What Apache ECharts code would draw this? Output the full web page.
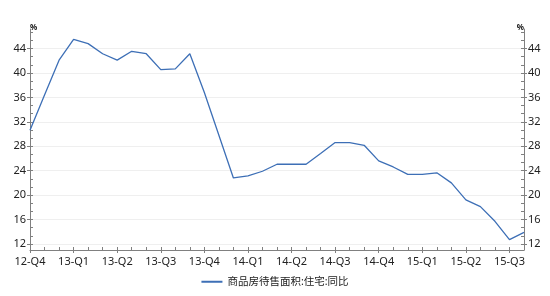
<!DOCTYPE html>
<html>
<head>
<meta charset="utf-8">
<script src="https://cdn.jsdelivr.net/npm/echarts@6/dist/echarts.min.js"></script>
<style>html,body{margin:0;padding:0;background:#fff}#c{width:550px;height:296px}</style>
</head>
<body>
<div id="c"></div>
<script>
// Months 2012-12 .. 2015-10
var months = ['2012-12','2013-01','2013-02','2013-03','2013-04','2013-05','2013-06','2013-07','2013-08','2013-09','2013-10','2013-11','2013-12',
  '2014-01','2014-02','2014-03','2014-04','2014-05','2014-06','2014-07','2014-08','2014-09','2014-10','2014-11','2014-12',
  '2015-01','2015-02','2015-03','2015-04','2015-05','2015-06','2015-07','2015-08','2015-09','2015-10'];
var values = [30.6, 36.4, 42.1, 45.5, 44.8, 43.15, 42.1, 43.55, 43.15, 40.55, 40.67, 43.15, 36.8,
  29.8, 22.8, 23.15, 23.9, 25.05, 25.05, 25.05, 26.8, 28.6, 28.6, 28.15, 25.6,
  24.6, 23.4, 23.4, 23.65, 22.0, 19.2, 18.1, 15.7, 12.7, 13.9];
var majorTicks = [12, 16, 20, 24, 28, 32, 36, 40, 44];
var minorTicks = [12, 13.333, 14.667, 16, 17.333, 18.667, 20, 21.333, 22.667, 24, 25.333, 26.667, 28,
  29.333, 30.667, 32, 33.333, 34.667, 36, 37.333, 38.667, 40, 41.333, 42.667, 44, 45.333, 46.667];
var seriesName = '商品房待售面积:住宅:同比';

var FONT = "'Noto Sans', 'Noto Sans CJK SC', sans-serif";
var AX = '#808080';
var TXT = '#222';
var YMIN = 11, YMAX = 47.2;

function quarterLabel(v) {
  var p = v.split('-');
  return p[0].slice(2) + '-Q' + Math.ceil(parseInt(p[1], 10) / 3);
}

function yMain(pos) {
  return {
    type: 'value', position: pos, min: YMIN, max: YMAX,
    name: '%', nameLocation: 'end', nameGap: 1,
    nameTextStyle: { fontSize: 8, fontWeight: 'bold', color: TXT, fontFamily: FONT,
      align: pos === 'left' ? 'left' : 'right', verticalAlign: 'middle' },
    axisLine: { show: true, lineStyle: { color: AX, width: 1 } },
    axisTick: { show: true, inside: false, length: 3, customValues: majorTicks, lineStyle: { color: AX } },
    axisLabel: { show: true, customValues: majorTicks, margin: 4, fontSize: 11, color: TXT, fontFamily: FONT },
    splitLine: { show: pos === 'left', lineStyle: { color: '#efefef', width: 1 } }
  };
}
function yMinor(pos) {
  return {
    type: 'value', position: pos, min: YMIN, max: YMAX,
    axisLine: { show: false },
    axisTick: { show: true, inside: true, length: 3, customValues: minorTicks, lineStyle: { color: AX } },
    axisLabel: { show: false },
    splitLine: { show: false }
  };
}

var chart = echarts.init(document.getElementById('c'), null, { renderer: 'canvas' });
chart.setOption({
  animation: false,
  backgroundColor: '#fff',
  grid: { left: 30, right: 26, top: 29, bottom: 46, containLabel: false },
  legend: {
    bottom: 4, left: 'center',
    icon: 'rect', itemWidth: 21, itemHeight: 2, itemGap: 10,
    textStyle: { fontSize: 10.5, color: TXT, fontFamily: FONT },
    data: [seriesName]
  },
  xAxis: [
    {
      type: 'category', data: months, boundaryGap: false, position: 'bottom',
      axisLine: { show: true, lineStyle: { color: AX, width: 1 } },
      axisTick: { show: true, inside: false, length: 3, interval: 2, lineStyle: { color: AX } },
      axisLabel: { show: true, interval: 2, margin: 6, fontSize: 11, color: TXT, fontFamily: FONT, formatter: quarterLabel },
      splitLine: { show: false }
    },
    {
      type: 'category', data: months, boundaryGap: false, position: 'bottom',
      axisLine: { show: false },
      axisTick: { show: true, inside: true, length: 3, interval: 0, lineStyle: { color: AX } },
      axisLabel: { show: false },
      splitLine: { show: false }
    }
  ],
  yAxis: [yMain('left'), yMinor('left'), yMain('right'), yMinor('right')],
  series: [{
    name: seriesName, type: 'line', data: values,
    xAxisIndex: 0, yAxisIndex: 0,
    symbol: 'none', smooth: false,
    lineStyle: { color: '#3d6fb6', width: 1.3 },
    itemStyle: { color: '#3d6fb6' }
  }]
});
</script>
</body>
</html>
